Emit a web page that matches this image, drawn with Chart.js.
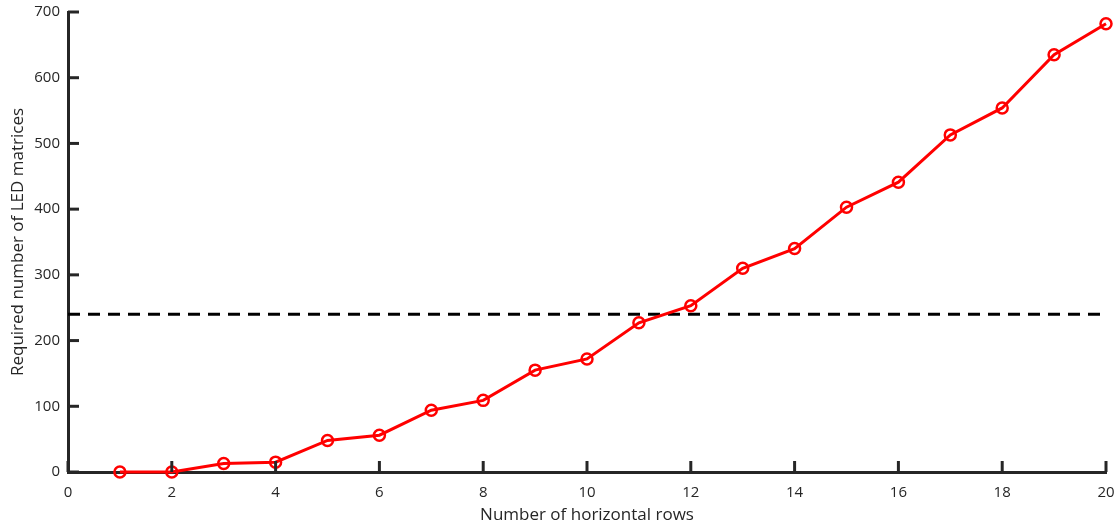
<!DOCTYPE html>
<html>
<head>
<meta charset="utf-8">
<script src="https://cdn.jsdelivr.net/npm/chart.js@4.4.0/dist/chart.umd.min.js"></script>
<style>
  html, body { margin: 0; padding: 0; background: #fff; }
  #wrap { width: 1118px; height: 530px; }
</style>
</head>
<body>
<div id="wrap"><canvas id="ledChart"></canvas></div>
<script>
// rows vs required LED matrices
const rows = [1, 2, 3, 4, 5, 6, 7, 8, 9, 10, 11, 12, 13, 14, 15, 16, 17, 18, 19, 20];
const matrices = [0, 0, 13, 15, 48, 56, 94, 109, 155, 172, 227, 253, 310, 340, 403, 441, 513, 554, 635, 682];
const limitX = [0, 20];
const limitY = [240, 240];
const xTicks = [0, 2, 4, 6, 8, 10, 12, 14, 16, 18, 20];
const yTicks = [0, 100, 200, 300, 400, 500, 600, 700];

const axisColor = '#262626';

// ticks pointing into the plot, matlab style
const innerTicks = {
    id: 'innerTicks',
    afterDraw(chart) {
        const ctx = chart.ctx;
        const xs = chart.scales.x;
        const ys = chart.scales.y;
        const len = 11;
        ctx.save();
        ctx.strokeStyle = axisColor;
        ctx.lineWidth = 3;
        xTicks.forEach(v => {
            const px = xs.getPixelForValue(v);
            ctx.beginPath();
            ctx.moveTo(px, ys.bottom);
            ctx.lineTo(px, ys.bottom - len);
            ctx.stroke();
        });
        yTicks.forEach(v => {
            const py = ys.getPixelForValue(v);
            ctx.beginPath();
            ctx.moveTo(xs.left, py);
            ctx.lineTo(xs.left + len, py);
            ctx.stroke();
        });
        ctx.restore();
    }
};

document.addEventListener('DOMContentLoaded', () => {
    const ctx = document.getElementById('ledChart').getContext('2d');
    new Chart(ctx, {
        type: 'scatter',
        data: {
            datasets: [{
                data: rows.map((r, i) => ({ x: r, y: matrices[i] })),
                showLine: true,
                borderColor: '#ff0000',
                borderWidth: 3,
                pointRadius: 5.5,
                pointBorderWidth: 2.5,
                pointBorderColor: '#ff0000',
                pointBackgroundColor: 'rgba(255,255,255,0)',
                clip: false,
                order: 1
            }, {
                data: limitX.map((x, i) => ({ x: x, y: limitY[i] })),
                showLine: true,
                borderColor: '#000000',
                borderWidth: 3,
                borderDash: [12, 8],
                pointRadius: 0,
                order: 2
            }]
        },
        options: {
            responsive: true,
            maintainAspectRatio: false,
            animation: false,
            layout: { padding: { top: 12, right: 12, left: 0, bottom: 0 } },
            plugins: {
                legend: { display: false },
                tooltip: { enabled: false }
            },
            scales: {
                x: {
                    type: 'linear',
                    min: 0,
                    max: 20,
                    afterFit: s => {
                        s.height = 58;
                        s.paddingLeft = 0;
                        s.paddingRight = 0;
                    },
                    afterBuildTicks: s => { s.ticks = xTicks.map(v => ({ value: v })); },
                    grid: { display: false },
                    border: { color: axisColor, width: 3 },
                    ticks: {
                        color: axisColor,
                        padding: 4,
                        maxRotation: 0,
                        font: { family: 'Open Sans', size: 15 }
                    },
                    title: {
                        display: true,
                        text: 'Number of horizontal rows',
                        color: axisColor,
                        padding: { top: 0, bottom: 5 },
                        font: { family: 'Open Sans', size: 17 }
                    }
                },
                y: {
                    min: 0,
                    max: 700,
                    afterFit: s => {
                        s.width = 68;
                        s.paddingTop = 0;
                        s.paddingBottom = 0;
                    },
                    afterBuildTicks: s => { s.ticks = yTicks.map(v => ({ value: v })); },
                    grid: { display: false },
                    border: { color: axisColor, width: 3 },
                    ticks: {
                        color: axisColor,
                        padding: 0,
                        font: { family: 'Open Sans', size: 15 }
                    },
                    title: {
                        display: true,
                        text: 'Required number of LED matrices',
                        color: axisColor,
                        padding: { top: 8, bottom: 0 },
                        font: { family: 'Open Sans', size: 17 }
                    }
                }
            }
        },
        plugins: [innerTicks]
    });
});
</script>
</body>
</html>
